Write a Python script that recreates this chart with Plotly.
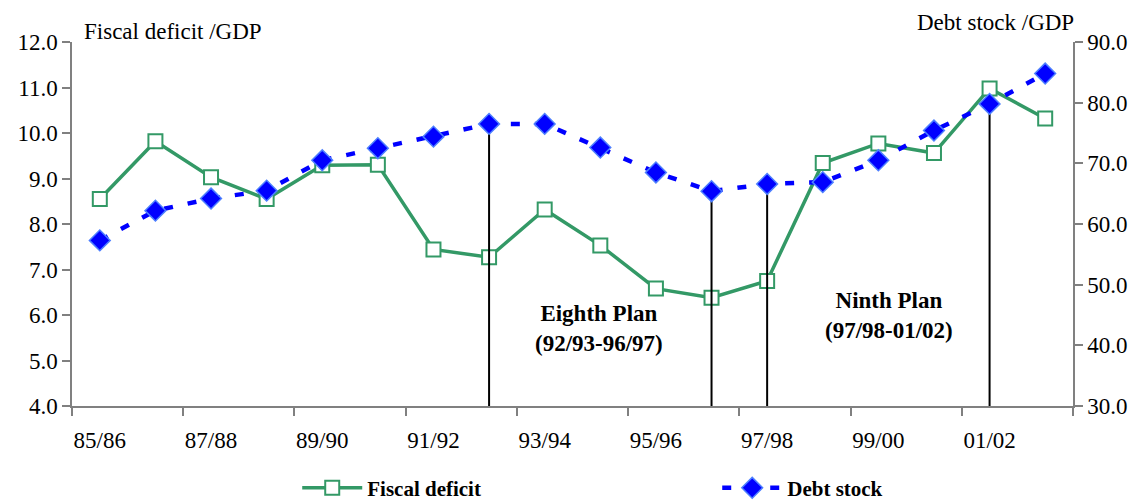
import plotly.graph_objects as go

years = ["85/86", "86/87", "87/88", "88/89", "89/90", "90/91", "91/92", "92/93", "93/94",
         "94/95", "95/96", "96/97", "97/98", "98/99", "99/00", "00/01", "01/02", "02/03"]
fiscal_deficit = [8.55, 9.82, 9.03, 8.55, 9.29, 9.30, 7.44, 7.27, 8.32,
                  7.53, 6.58, 6.38, 6.75, 9.34, 9.77, 9.56, 10.98, 10.32]
debt_stock = [57.3, 62.2, 64.2, 65.5, 70.5, 72.5, 74.4, 76.5, 76.5,
              72.6, 68.5, 65.4, 66.6, 66.9, 70.5, 75.4, 79.8, 84.8]
plan_marks = ["92/93", "96/97", "97/98", "01/02"]
shown_labels = years[::2]

FONT = "Liberation Serif"
GREEN = "#339966"
BLUE = "#0000FF"
GREY = "#808080"
FS = 23

idx = list(range(len(years)))
fig = go.Figure()

# vertical plan lines, from the axis floor to the debt stock point
for m in plan_marks:
    i = years.index(m)
    fig.add_trace(go.Scatter(x=[i, i], y=[30, debt_stock[i]], yaxis="y2", mode="lines",
                             line=dict(color="black", width=2), showlegend=False, hoverinfo="skip"))

fig.add_trace(go.Scatter(
    x=idx, y=fiscal_deficit, name="Fiscal deficit", mode="lines+markers",
    line=dict(color=GREEN, width=3.5),
    marker=dict(symbol="square", size=14, color="white", line=dict(color=GREEN, width=2)),
))
fig.add_trace(go.Scatter(
    x=idx, y=debt_stock, name="Debt stock", mode="lines+markers", yaxis="y2",
    line=dict(color=BLUE, width=4.5, dash="9px,15px"),
    marker=dict(symbol="diamond", size=16, color=BLUE, line=dict(color="#4D7FFF", width=1.5)),
))

xr = [-0.5, len(years) - 0.5]
fig.update_layout(
    width=1134, height=494,
    margin=dict(l=64, r=69, t=34, b=96, autoexpand=False),
    paper_bgcolor="white", plot_bgcolor="white",
    font=dict(family=FONT, size=FS, color="black"),
    xaxis=dict(range=xr, tickvals=[i - 0.5 for i in idx[::2]] + [len(years) - 0.5],
               ticktext=[""] * (len(idx[::2]) + 1),
               ticks="outside", ticklen=8, tickcolor=GREY, tickwidth=1.5,
               showline=True, linecolor=GREY, linewidth=1.5, showgrid=False, zeroline=False),
    xaxis3=dict(range=xr, overlaying="x", side="bottom", anchor="y",
                tickvals=idx[::2], ticktext=shown_labels,
                ticks="outside", ticklen=13, tickcolor="rgba(0,0,0,0)",
                showline=False, showgrid=False, zeroline=False,
                tickfont=dict(family=FONT, size=FS)),
    yaxis=dict(range=[4, 12], dtick=1, tickformat=".1f",
               ticks="outside", ticklen=8, tickcolor=GREY, tickwidth=1.5,
               showline=True, linecolor=GREY, linewidth=1.5, showgrid=False, zeroline=False,
               tickfont=dict(family=FONT, size=FS)),
    yaxis2=dict(range=[30, 90], dtick=10, tickformat=".1f", overlaying="y", side="right",
                ticks="outside", ticklen=8, tickcolor=GREY, tickwidth=1.5,
                showline=True, linecolor=GREY, linewidth=1.5, showgrid=False, zeroline=False,
                tickfont=dict(family=FONT, size=FS)),
    legend=dict(orientation="h", x=0.225, xanchor="left", yref="container", y=0.028, yanchor="middle",
                entrywidth=345, entrywidthmode="pixels", itemwidth=60,
                font=dict(family=FONT, size=21, color="black", weight="bold"),
                bgcolor="rgba(0,0,0,0)"),
    showlegend=True,
)

# dummy trace to activate xaxis3
fig.add_trace(go.Scatter(x=[0], y=[None], xaxis="x3", showlegend=False, hoverinfo="skip"))

fig.add_annotation(text="Fiscal deficit /GDP", xref="paper", yref="paper", x=0.01, y=0.99,
                   xanchor="left", yanchor="bottom", showarrow=False, font=dict(family=FONT, size=FS))
fig.add_annotation(text="Debt stock /GDP", xref="paper", yref="paper", x=1.003, y=1.013,
                   xanchor="right", yanchor="bottom", showarrow=False, font=dict(family=FONT, size=FS))
fig.add_annotation(text="<b>Eighth Plan</b><br><b>(92/93-96/97)</b>", xref="x", yref="y",
                   x=8.98, y=5.7, showarrow=False, align="center",
                   font=dict(family=FONT, size=FS), yanchor="middle")
fig.add_annotation(text="<b>Ninth Plan</b><br><b>(97/98-01/02)</b>", xref="x", yref="y",
                   x=14.2, y=6.0, showarrow=False, align="center",
                   font=dict(family=FONT, size=FS), yanchor="middle")

fig.write_html("out.html")
